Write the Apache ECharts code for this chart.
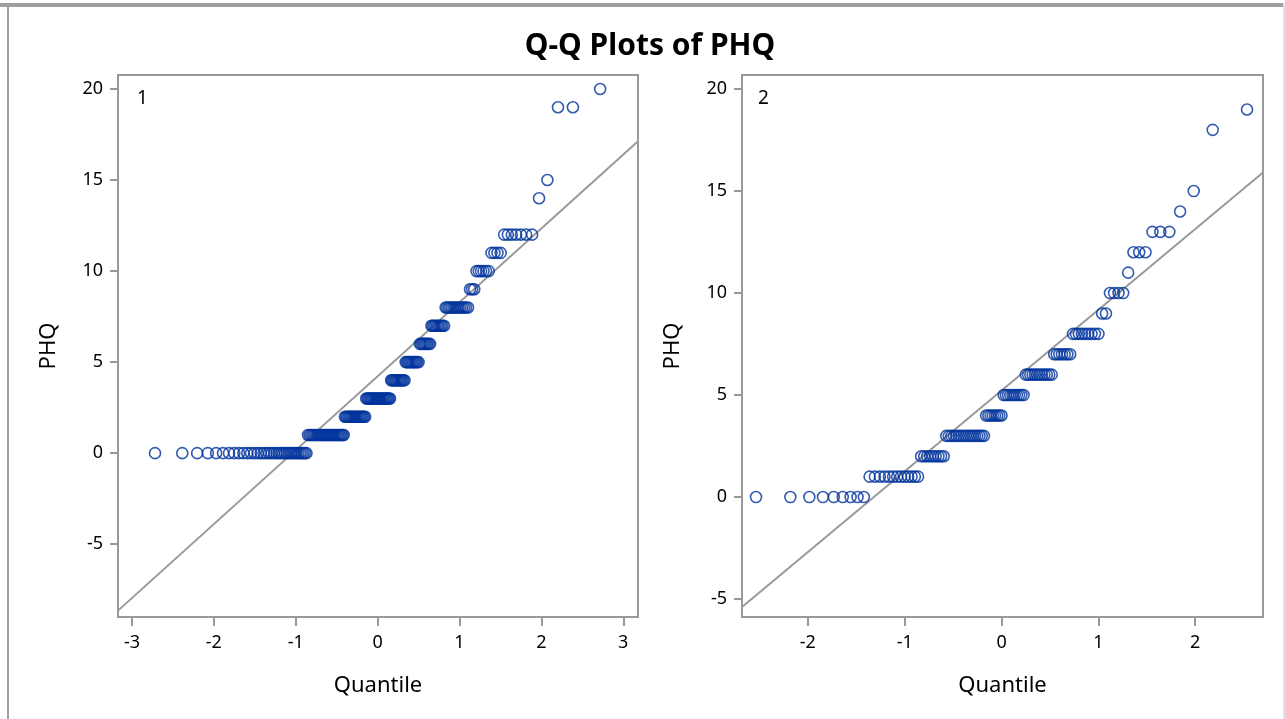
<!DOCTYPE html>
<html>
<head>
<meta charset="utf-8">
<script src="https://cdn.jsdelivr.net/npm/echarts@6/dist/echarts.min.js"></script>
<style>
  html, body { margin: 0; padding: 0; background: #fff; }
  #chart { width: 1285px; height: 719px; }
</style>
</head>
<body>
<div id="chart"></div>
<script>
// PHQ scores and how many subjects sit on each score
const phqValues1 = [0, 1, 2, 3, 4, 5, 6, 7, 8, 9, 10, 11, 12, 14, 15, 19, 20];
const phqCounts1 = [37, 28, 19, 23, 13, 12, 9, 10, 14, 3, 6, 4, 7, 1, 1, 2, 1];
const phqValues2 = [0, 1, 2, 3, 4, 5, 6, 7, 8, 9, 10, 11, 12, 13, 14, 15, 18, 19];
const phqCounts2 = [9, 13, 9, 17, 8, 10, 12, 7, 9, 2, 4, 1, 3, 3, 1, 1, 1, 1];

// reference line (mu + sigma * quantile)
const refMu = [4.22, 5.22];
const refSigma = [4.06, 3.96];

// axes
const xRange1 = [-3.17, 3.18];
const xRange2 = [-2.68, 2.70];
const yRange1 = [-9.0, 20.77];
const yRange2 = [-5.88, 20.69];
const xTicks1 = [-3, -2, -1, 0, 1, 2, 3];
const xTicks2 = [-2, -1, 0, 1, 2];
const yTicks = [-5, 0, 5, 10, 15, 20];

const FONT = 'Noto Sans';
const BLUE = '#00339c';
const GREY = '#999999';

// inverse normal cdf (Acklam)
function qnorm(p) {
    const a = [-3.969683028665376e+01, 2.209460984245205e+02, -2.759285104469687e+02,
        1.383577518672690e+02, -3.066479806614716e+01, 2.506628277459239e+00];
    const b = [-5.447609879822406e+01, 1.615858368580409e+02, -1.556989798598866e+02,
        6.680131188771972e+01, -1.328068155288572e+01];
    const c = [-7.784894002430293e-03, -3.223964580411365e-01, -2.400758277161838e+00,
        -2.549671010243269e+00, 4.374664141464968e+00, 2.938163982698783e+00];
    const d = [7.784695709041462e-03, 3.224671290700398e-01, 2.445134137142996e+00,
        3.754408661907416e+00];
    const pl = 0.02425;
    let q, r;
    if (p < pl) {
        q = Math.sqrt(-2 * Math.log(p));
        return (((((c[0] * q + c[1]) * q + c[2]) * q + c[3]) * q + c[4]) * q + c[5]) /
            ((((d[0] * q + d[1]) * q + d[2]) * q + d[3]) * q + 1);
    }
    if (p > 1 - pl) {
        q = Math.sqrt(-2 * Math.log(1 - p));
        return -(((((c[0] * q + c[1]) * q + c[2]) * q + c[3]) * q + c[4]) * q + c[5]) /
            ((((d[0] * q + d[1]) * q + d[2]) * q + d[3]) * q + 1);
    }
    q = p - 0.5;
    r = q * q;
    return (((((a[0] * r + a[1]) * r + a[2]) * r + a[3]) * r + a[4]) * r + a[5]) * q /
        (((((b[0] * r + b[1]) * r + b[2]) * r + b[3]) * r + b[4]) * r + 1);
}

// Q-Q points: sorted scores against Blom normal scores
function qqPoints(values, counts) {
    let sorted = [];
    values.forEach((v, k) => {
        for (let j = 0; j < counts[k]; j++) sorted.push(v);
    });
    let n = sorted.length;
    return sorted.map((v, i) => [qnorm((i + 1 - 0.375) / (n + 0.25)), v]);
}

function refLine(k, range) {
    return range.map(x => [x, refMu[k] + refSigma[k] * x]);
}

function xAxis(idx, range, ticks) {
    return {
        type: 'value', gridIndex: idx, position: 'bottom', min: range[0], max: range[1],
        name: 'Quantile', nameLocation: 'middle', nameGap: 58,
        nameTextStyle: {fontFamily: FONT, fontSize: 22, color: '#000'},
        axisLine: {show: false, onZero: false},
        splitLine: {show: false},
        axisTick: {show: true, length: 9, lineStyle: {color: GREY, width: 2}, customValues: ticks},
        axisLabel: {fontFamily: FONT, fontSize: 18, color: '#000', margin: 17, customValues: ticks}
    };
}

function yAxis(idx, range) {
    return {
        type: 'value', gridIndex: idx, position: 'left', min: range[0], max: range[1],
        name: 'PHQ', nameLocation: 'middle', nameGap: 58, nameRotate: 90,
        nameTextStyle: {fontFamily: FONT, fontSize: 22, color: '#000'},
        axisLine: {show: false, onZero: false},
        splitLine: {show: false},
        axisTick: {show: true, length: 8, lineStyle: {color: GREY, width: 2}, customValues: yTicks},
        axisLabel: {fontFamily: FONT, fontSize: 18, color: '#000', margin: 15, customValues: yTicks}
    };
}

function scatter(idx, data) {
    return {
        type: 'scatter', xAxisIndex: idx, yAxisIndex: idx, data: data,
        symbol: 'circle', symbolSize: 11, z: 3,
        itemStyle: {color: 'rgba(0,0,0,0)', borderColor: BLUE, borderWidth: 1.6}
    };
}

function line(idx, data) {
    return {
        type: 'line', xAxisIndex: idx, yAxisIndex: idx, data: data,
        symbol: 'none', clip: true, silent: true, z: 2,
        lineStyle: {color: GREY, width: 2}
    };
}

const chart = echarts.init(document.getElementById('chart'));
chart.setOption({
    animation: false,
    backgroundColor: '#fff',
    grid: [
        {left: 118, top: 75, width: 520, height: 542, show: true, borderColor: GREY, borderWidth: 2, backgroundColor: '#fff'},
        {left: 742, top: 75, width: 521, height: 542, show: true, borderColor: GREY, borderWidth: 2, backgroundColor: '#fff'}
    ],
    xAxis: [xAxis(0, xRange1, xTicks1), xAxis(1, xRange2, xTicks2)],
    yAxis: [yAxis(0, yRange1), yAxis(1, yRange2)],
    series: [
        line(0, refLine(0, xRange1)),
        scatter(0, qqPoints(phqValues1, phqCounts1)),
        line(1, refLine(1, xRange2)),
        scatter(1, qqPoints(phqValues2, phqCounts2))
    ],
    graphic: [
        // outer frame
        {type: 'rect', shape: {x: 0, y: 3, width: 1285, height: 4}, style: {fill: '#a0a0a0'}},
        {type: 'rect', shape: {x: 7, y: 3, width: 2, height: 716}, style: {fill: '#a0a0a0'}},
        {type: 'rect', shape: {x: 1283, y: 3, width: 2, height: 716}, style: {fill: '#e2e2e2'}},
        {type: 'text', x: 650, y: 46, style: {text: 'Q-Q Plots of PHQ', fontFamily: FONT, fontSize: 30, fontWeight: 'bold', fill: '#000', textAlign: 'center', textVerticalAlign: 'middle'}},
        {type: 'text', x: 137, y: 99, z: 10, style: {text: '1', fontFamily: FONT, fontSize: 19, fill: '#000', textVerticalAlign: 'middle'}},
        {type: 'text', x: 758, y: 99, z: 10, style: {text: '2', fontFamily: FONT, fontSize: 19, fill: '#000', textVerticalAlign: 'middle'}}
    ]
});
</script>
</body>
</html>
